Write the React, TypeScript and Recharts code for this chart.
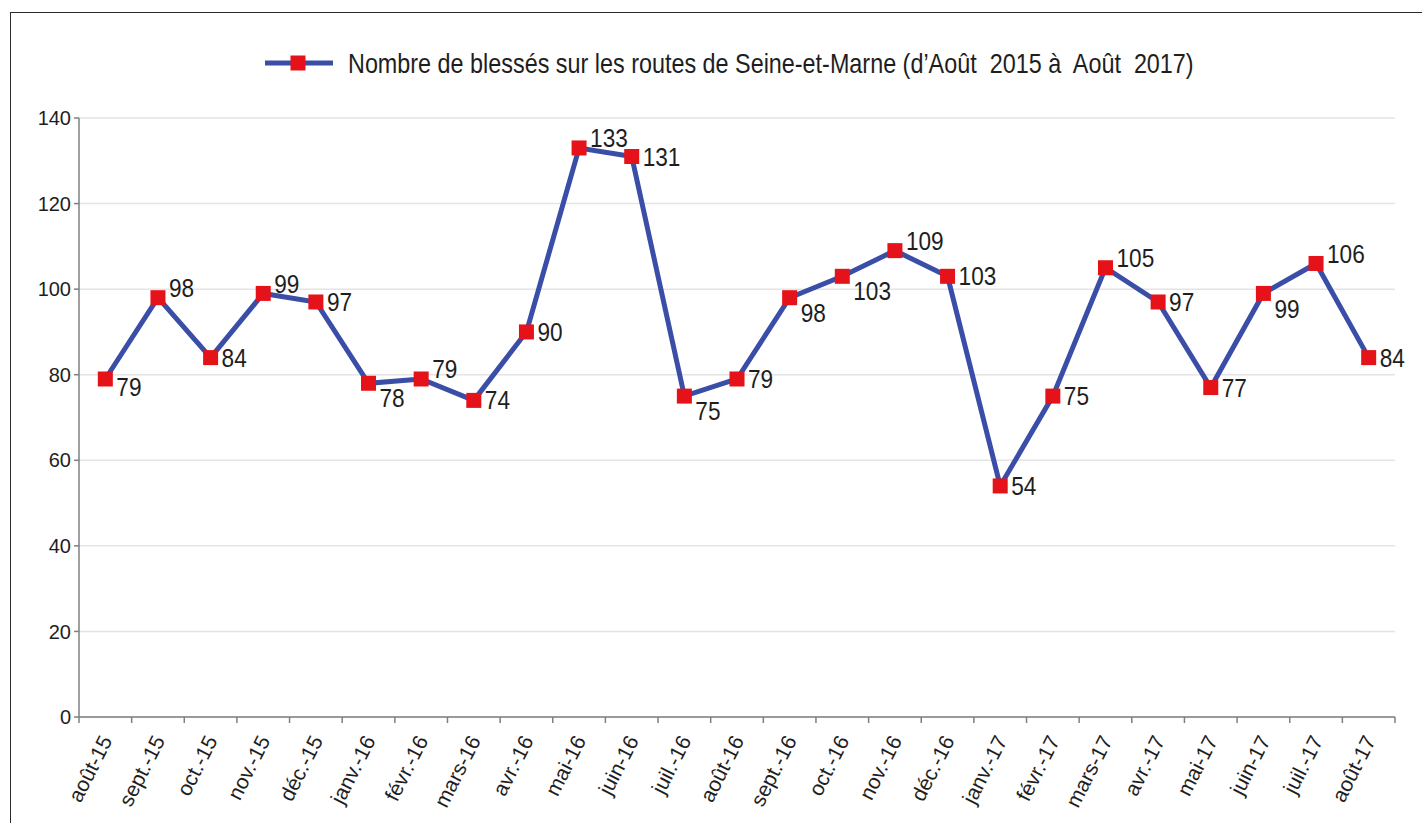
import React from 'react'
import { ComposedChart, Line, XAxis, YAxis, CartesianGrid, Legend, LabelList } from 'recharts'

const months = [
  'août-15', 'sept.-15', 'oct.-15', 'nov.-15', 'déc.-15',
  'janv.-16', 'févr.-16', 'mars-16', 'avr.-16', 'mai-16', 'juin-16', 'juil.-16',
  'août-16', 'sept.-16', 'oct.-16', 'nov.-16', 'déc.-16',
  'janv.-17', 'févr.-17', 'mars-17', 'avr.-17', 'mai-17', 'juin-17', 'juil.-17', 'août-17'
]

const blesses = [
  79, 98, 84, 99, 97,
  78, 79, 74, 90, 133, 131, 75,
  79, 98, 103, 109, 103,
  54, 75, 105, 97, 77, 99, 106, 84
]

const yTicks = [0, 20, 40, 60, 80, 100, 120, 140]

const seriesName = 'Nombre de blessés sur les routes de Seine-et-Marne (d’Août  2015 à  Août  2017)'

const data = months.map((m, i) => ({ month: m, value: blesses[i] }))

const W = 1422
const H = 823
const MARGIN = { top: 118, right: 27, bottom: 0, left: 0 }
const Y_AXIS_W = 79
const PLOT_W = W - MARGIN.right - MARGIN.left - Y_AXIS_W
const BAND = PLOT_W / months.length

const LINE_COLOR = '#3a4ea8'
const MARKER_COLOR = '#e5121a'
const AXIS_COLOR = '#7f7f7f'
const TEXT_COLOR = '#1e1e1e'
const FONT = "'Liberation Sans', Arial, sans-serif"

const SquareDot = (props: any) => {
  const { cx, cy } = props
  if (cx == null || cy == null) return null
  return <rect x={cx - 7.5} y={cy - 7.5} width={15} height={15} fill={MARKER_COLOR} />
}

const MonthTick = (props: any) => {
  const { x, y, payload, index } = props
  const last = index === months.length - 1
  return (
    <g>
      <line x1={x - BAND / 2} x2={x - BAND / 2} y1={y} y2={y + 6} stroke={AXIS_COLOR} strokeWidth={1.5} />
      {last && (
        <line x1={x + BAND / 2} x2={x + BAND / 2} y1={y} y2={y + 6} stroke={AXIS_COLOR} strokeWidth={1.5} />
      )}
      <g transform={`translate(${x + 1},${y + 20})`}>
        <text
          transform="rotate(-63)"
          textAnchor="end"
          dy="0.35em"
          fontSize={21}
          fontFamily={FONT}
          fill={TEXT_COLOR}
        >
          {payload.value}
        </text>
      </g>
    </g>
  )
}

// label position: above local peaks, below when the next month rises a little
const labelShift = (i: number) => {
  const cur = blesses[i]
  const prev = blesses[i - 1]
  const next = blesses[i + 1]
  const peak = (prev === undefined || cur > prev) && (next === undefined || cur > next)
  if (i === 0) return 8
  if (peak) return -10
  if (next !== undefined && next > cur && next - cur < 10) return 15
  return 0
}

const ValueLabel = (props: any) => {
  const { x, y, value, index } = props
  return (
    <g transform={`translate(${x + 11},${y + labelShift(index)}) scale(0.87,1)`}>
      <text dy="0.35em" fontSize={26} fontFamily={FONT} fill={TEXT_COLOR}>
        {value}
      </text>
    </g>
  )
}

// legend drawn as one svg strip, text squeezed like the original export
const LegendContent = () => (
  <svg width={PLOT_W} height={34} style={{ display: 'block' }}>
    <line x1={186} x2={254} y1={15} y2={15} stroke={LINE_COLOR} strokeWidth={5} />
    <rect x={211.5} y={7.5} width={15} height={15} fill={MARKER_COLOR} />
    <g transform="translate(269,15) scale(0.835,1)">
      <text dy="0.35em" fontSize={28} fontFamily={FONT} fill={TEXT_COLOR} style={{ whiteSpace: 'pre' }}>
        {seriesName}
      </text>
    </g>
  </svg>
)

export default function App() {
  return (
    <div style={{ position: 'relative', width: W, height: H, background: '#fff', overflow: 'hidden' }}>
      <style>{'body{margin:0;overflow:hidden;}'}</style>
      <div
        style={{
          position: 'absolute',
          left: 10,
          top: 12,
          width: W,
          height: H,
          borderTop: '1.5px solid #2a2a2a',
          borderLeft: '1.5px solid #2a2a2a'
        }}
      />
      <div style={{ position: 'absolute', left: 0, top: 0 }}>
        <ComposedChart width={W} height={H} data={data} margin={MARGIN}>
          <CartesianGrid horizontal vertical={false} stroke="#e4e4e4" strokeWidth={1.5} />
          <XAxis
            dataKey="month"
            interval={0}
            height={H - 717}
            padding={{ left: BAND / 2, right: BAND / 2 }}
            tickLine={false}
            tickSize={0}
            tickMargin={0}
            axisLine={{ stroke: AXIS_COLOR, strokeWidth: 1.5 }}
            tick={<MonthTick />}
          />
          <YAxis
            width={Y_AXIS_W}
            domain={[0, 140]}
            ticks={yTicks}
            interval={0}
            tickSize={5}
            tickMargin={3}
            axisLine={{ stroke: AXIS_COLOR, strokeWidth: 1.5 }}
            tickLine={{ stroke: AXIS_COLOR, strokeWidth: 1.5 }}
            tick={{ fontSize: 20, fontFamily: FONT, fill: TEXT_COLOR }}
          />
          <Legend
            verticalAlign="middle"
            align="center"
            wrapperStyle={{ top: 48, left: 79, width: PLOT_W }}
            content={<LegendContent />}
          />
          <Line
            type="linear"
            dataKey="value"
            name={seriesName}
            stroke={LINE_COLOR}
            strokeWidth={5}
            dot={<SquareDot />}
            activeDot={false}
            isAnimationActive={false}
          >
            <LabelList dataKey="value" content={<ValueLabel />} />
          </Line>
        </ComposedChart>
      </div>
    </div>
  )
}
